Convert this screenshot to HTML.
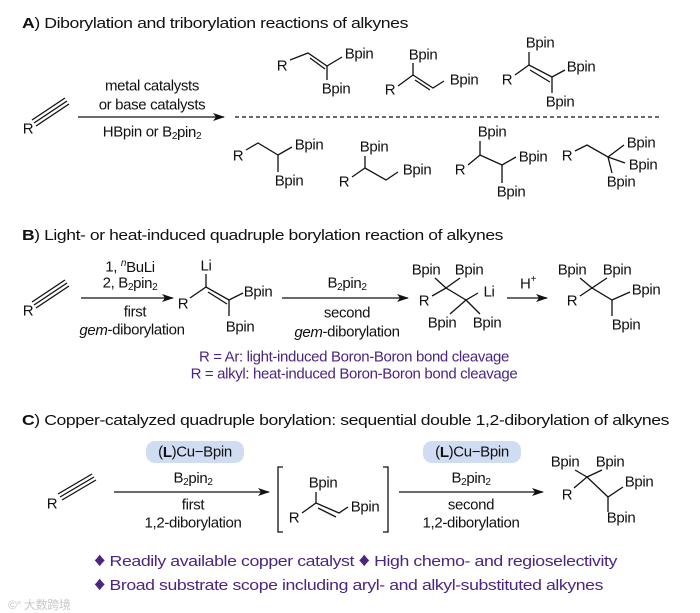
<!DOCTYPE html>
<html><head><meta charset="utf-8"><style>
html,body{margin:0;padding:0;background:#fff;}
svg{display:block;}
text{font-family:"Liberation Sans",Arial,sans-serif;font-size:15px;letter-spacing:-0.35px;fill:#111;}
.m{text-anchor:middle;dominant-baseline:central;}
.p{fill:#4b2580;}
line,path,polyline{stroke:#111;stroke-width:1.3;fill:none;}
</style></head><body>
<svg width="700" height="613" viewBox="0 0 700 613" xmlns="http://www.w3.org/2000/svg">
<defs><marker id="ah" markerWidth="12" markerHeight="8" refX="11" refY="4" orient="auto" markerUnits="userSpaceOnUse"><path d="M0,0 L12,4 L0,8 L3,4 Z" style="fill:#111;stroke:none"/></marker></defs>

<!-- Section A -->
<text x="22" y="28" textLength="386" lengthAdjust="spacingAndGlyphs"><tspan font-weight="bold">A</tspan>) Diborylation and triborylation reactions of alkynes</text>
<text class="m" x="28" y="129">R</text>
<line x1="34" y1="123" x2="67" y2="101"/><line x1="32" y1="120" x2="65" y2="98"/><line x1="36" y1="126" x2="69" y2="104"/>
<line x1="78" y1="117" x2="224" y2="117" marker-end="url(#ah)"/>
<text class="m" x="152" y="86">metal catalysts</text>
<text class="m" x="152" y="105">or base catalysts</text>
<text class="m" x="152" y="132">HBpin or B<tspan font-size="10" dy="4">2</tspan><tspan dy="-4">pin</tspan><tspan font-size="10" dy="4">2</tspan></text>
<line x1="235" y1="117" x2="661" y2="117" stroke-dasharray="4,3"/>
<text class="m" x="282" y="66">R</text>
<polyline points="290,60 308,53 327,66 342,57"/><line x1="310" y1="58" x2="325" y2="69"/>
<line x1="327" y1="66" x2="327" y2="80"/>
<text class="m" x="359" y="54">Bpin</text><text class="m" x="336" y="89">Bpin</text>
<text class="m" x="423" y="55">Bpin</text>
<line x1="413" y1="63" x2="413" y2="75"/>
<polyline points="398,86 413,75 433,88 444,81"/><line x1="415" y1="80" x2="430" y2="90"/>
<text class="m" x="390" y="90">R</text><text class="m" x="464" y="80">Bpin</text>
<text class="m" x="540" y="43">Bpin</text>
<line x1="529" y1="52" x2="529" y2="65"/>
<polyline points="515,75 529,65 552,77 565,70"/><line x1="530" y1="70" x2="550" y2="82"/>
<line x1="552" y1="77" x2="552" y2="93"/>
<text class="m" x="507" y="80">R</text><text class="m" x="581" y="67">Bpin</text><text class="m" x="560" y="102">Bpin</text>
<text class="m" x="238" y="156">R</text>
<polyline points="246,150 258,143 278,155 292,147"/><line x1="278" y1="155" x2="278" y2="172"/>
<text class="m" x="309" y="145">Bpin</text><text class="m" x="289" y="181">Bpin</text>
<text class="m" x="374" y="147">Bpin</text>
<line x1="365" y1="156" x2="365" y2="168"/>
<polyline points="352,177 365,168 386,180 398,172"/>
<text class="m" x="344" y="182">R</text><text class="m" x="417" y="170">Bpin</text>
<text class="m" x="492" y="132">Bpin</text>
<line x1="480" y1="141" x2="480" y2="155"/>
<polyline points="468,165 480,155 502,165 516,157"/><line x1="502" y1="165" x2="502" y2="183"/>
<text class="m" x="460" y="170">R</text><text class="m" x="533" y="157">Bpin</text><text class="m" x="511" y="192">Bpin</text>
<text class="m" x="567" y="156">R</text>
<polyline points="575,151 587,145 608,157 624,145"/><line x1="608" y1="157" x2="625" y2="163"/><line x1="608" y1="157" x2="612" y2="173"/>
<text class="m" x="641" y="143">Bpin</text><text class="m" x="643" y="165">Bpin</text><text class="m" x="621" y="182">Bpin</text>

<!-- Section B -->
<text x="22" y="240" textLength="481" lengthAdjust="spacingAndGlyphs"><tspan font-weight="bold">B</tspan>) Light- or heat-induced quadruple borylation reaction of alkynes</text>
<text class="m" x="28" y="311">R</text>
<line x1="34" y1="305" x2="67" y2="283"/><line x1="32" y1="302" x2="65" y2="280"/><line x1="36" y1="308" x2="69" y2="286"/>
<line x1="81" y1="298" x2="173" y2="298" marker-end="url(#ah)"/>
<text class="m" x="130" y="267">1, <tspan font-style="italic" font-size="10" dy="-4">n</tspan><tspan dy="4">BuLi</tspan></text>
<text class="m" x="130" y="283">2, B<tspan font-size="10" dy="4">2</tspan><tspan dy="-4">pin</tspan><tspan font-size="10" dy="4">2</tspan></text>
<text class="m" x="135" y="312">first</text>
<text class="m" x="132" y="330"><tspan font-style="italic">gem</tspan>-diborylation</text>
<text class="m" x="206" y="266">Li</text>
<line x1="206" y1="274" x2="206" y2="287"/>
<polyline points="190,298 206,287 229,300 243,293"/><line x1="208" y1="292" x2="227" y2="304"/>
<line x1="229" y1="300" x2="229" y2="316"/>
<text class="m" x="183" y="304">R</text><text class="m" x="258" y="292">Bpin</text><text class="m" x="240" y="327">Bpin</text>
<line x1="282" y1="298" x2="408" y2="298" marker-end="url(#ah)"/>
<text class="m" x="347" y="283">B<tspan font-size="10" dy="4">2</tspan><tspan dy="-4">pin</tspan><tspan font-size="10" dy="4">2</tspan></text>
<text class="m" x="347" y="313">second</text>
<text class="m" x="347" y="332"><tspan font-style="italic">gem</tspan>-diborylation</text>
<text class="m" x="426" y="270">Bpin</text><text class="m" x="469" y="270">Bpin</text>
<polyline points="432,296 446,288 466,300 478,293"/>
<line x1="446" y1="288" x2="435" y2="278"/><line x1="446" y1="288" x2="460" y2="278"/>
<line x1="466" y1="300" x2="450" y2="314"/><line x1="466" y1="300" x2="480" y2="314"/>
<text class="m" x="424" y="301">R</text><text class="m" x="489" y="292">Li</text>
<text class="m" x="442" y="323">Bpin</text><text class="m" x="487" y="323">Bpin</text>
<line x1="507" y1="298" x2="547" y2="298" marker-end="url(#ah)"/>
<text class="m" x="528" y="284">H<tspan font-size="10" dy="-5">+</tspan></text>
<text class="m" x="572" y="270">Bpin</text><text class="m" x="617" y="270">Bpin</text>
<polyline points="580,296 592,288 612,300 630,292"/>
<line x1="592" y1="288" x2="580" y2="278"/><line x1="592" y1="288" x2="607" y2="278"/>
<line x1="612" y1="300" x2="612" y2="316"/>
<text class="m" x="572" y="301">R</text><text class="m" x="646" y="290">Bpin</text><text class="m" x="626" y="325">Bpin</text>
<text class="m p" x="354" y="357">R = Ar: light-induced Boron-Boron bond cleavage</text>
<text class="m p" x="354" y="374">R = alkyl: heat-induced Boron-Boron bond cleavage</text>

<!-- Section C -->
<text x="22" y="425" textLength="647" lengthAdjust="spacingAndGlyphs"><tspan font-weight="bold">C</tspan>) Copper-catalyzed quadruple borylation: sequential double 1,2-diborylation of alkynes</text>
<text class="m" x="52" y="504">R</text>
<line x1="60" y1="497" x2="94" y2="477"/><line x1="58" y1="494" x2="92" y2="474"/><line x1="62" y1="500" x2="96" y2="480"/>
<rect x="146" y="441" width="98" height="22" rx="9" fill="#cfdcf2"/>
<text class="m" x="195" y="452">(<tspan font-weight="bold">L</tspan>)Cu−Bpin</text>
<line x1="114" y1="492" x2="269" y2="492" marker-end="url(#ah)"/>
<text class="m" x="193" y="478">B<tspan font-size="10" dy="4">2</tspan><tspan dy="-4">pin</tspan><tspan font-size="10" dy="4">2</tspan></text>
<text class="m" x="193" y="505">first</text>
<text class="m" x="193" y="523">1,2-diborylation</text>
<polyline points="283,467 278,467 278,532 283,532"/>
<polyline points="383,467 388,467 388,532 383,532"/>
<text class="m" x="323" y="483">Bpin</text>
<line x1="316" y1="492" x2="316" y2="503"/>
<polyline points="302,513 316,503 339,513 348,507"/><line x1="318" y1="508" x2="336" y2="517"/>
<text class="m" x="294" y="518">R</text><text class="m" x="365" y="507">Bpin</text>
<rect x="423" y="441" width="98" height="22" rx="9" fill="#cfdcf2"/>
<text class="m" x="472" y="452">(<tspan font-weight="bold">L</tspan>)Cu−Bpin</text>
<line x1="399" y1="492" x2="543" y2="492" marker-end="url(#ah)"/>
<text class="m" x="471" y="478">B<tspan font-size="10" dy="4">2</tspan><tspan dy="-4">pin</tspan><tspan font-size="10" dy="4">2</tspan></text>
<text class="m" x="471" y="505">second</text>
<text class="m" x="471" y="523">1,2-diborylation</text>
<text class="m" x="565" y="462">Bpin</text><text class="m" x="610" y="462">Bpin</text>
<polyline points="574,488 587,477 608,497 623,487"/>
<line x1="587" y1="477" x2="575" y2="470"/><line x1="587" y1="477" x2="602" y2="470"/>
<line x1="608" y1="497" x2="608" y2="512"/>
<text class="m" x="567" y="495">R</text><text class="m" x="639" y="482">Bpin</text><text class="m" x="621" y="518">Bpin</text>
<text class="p" x="94" y="566" textLength="523" lengthAdjust="spacingAndGlyphs"><tspan font-size="19">♦</tspan> Readily available copper catalyst <tspan font-size="19">♦</tspan> High chemo- and regioselectivity</text>
<text class="p" x="94" y="590" textLength="509" lengthAdjust="spacingAndGlyphs"><tspan font-size="19">♦</tspan> Broad substrate scope including aryl- and alkyl-substituted alkynes</text>
<text x="8" y="609" style="font-family:'Liberation Sans','Noto Sans CJK SC',sans-serif;font-size:12px;fill:#c8c8c8">©° 大数跨境</text>
</svg>
</body></html>
